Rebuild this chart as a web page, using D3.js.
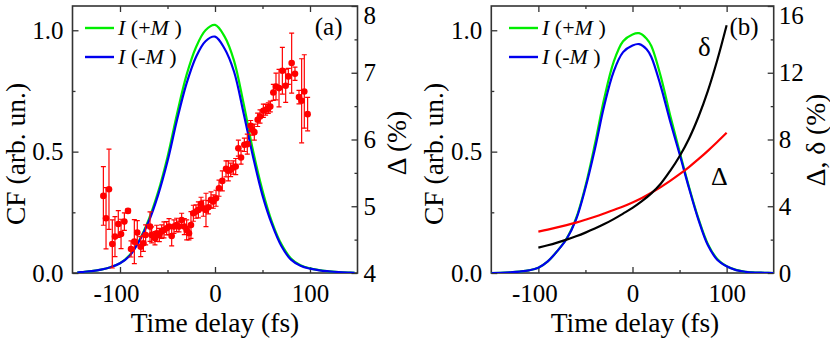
<!DOCTYPE html>
<html><head><meta charset="utf-8">
<script src="https://cdn.jsdelivr.net/npm/d3@7"></script>
<style>
html,body{margin:0;padding:0;background:#fff;}
svg{display:block;}
</style></head>
<body><svg id="c" width="830" height="338"></svg>
<script>
// ---------- data ----------
const tA = [-145,-140,-130,-120,-110,-100,-90,-80,-70,-60,-50,-40,-30,-20,-10,0,10,20,30,40,50,60,70,80,90,100,110,120,130,140,147];
const plusA = [0.002,0.004,0.008,0.014,0.024,0.04,0.073,0.133,0.218,0.332,0.478,0.655,0.815,0.93,1.0,1.022,0.975,0.875,0.7,0.505,0.34,0.21,0.118,0.06,0.032,0.019,0.012,0.007,0.004,0.002,0.001];
const minusA = [0.002,0.004,0.008,0.014,0.024,0.04,0.07,0.13,0.21,0.32,0.46,0.63,0.78,0.89,0.955,0.974,0.925,0.83,0.66,0.48,0.32,0.2,0.11,0.055,0.03,0.018,0.011,0.007,0.004,0.002,0.001];

const ptT = [-117.5,-114.7,-111.6,-108.1,-105.3,-101.8,-98.9,-95.4,-91.6,-88.4,
 -84.9,-81.8,-78.2,-75.4,-73.0,-68.4,-66.7,-63.2,-61.4,-58.6,
 -56.1,-53.7,-50.9,-48.4,-45.6,-43.2,-40.4,-37.9,-35.1,-32.3,
 -29.8,-27.4,-25.3,-22.8,-20.0,-17.5,-14.7,-12.3,-9.5,-7.0,
 -4.2,-1.8,1.1,4.2,7.7,11.6,14.0,16.5,19.3,21.8,
 24.6,27.4,30.9,34.0,37.5,39.3,41.4,44.9,47.4,50.9,
 53.3,56.1,58.2,61.4,64.2,67.4,70.9,74.4,77.2,80.7,
 84.2,88.4,91.2,94.0,97.5];
const ptV = [5.155,4.82,5.255,4.435,4.545,4.735,4.585,4.77,4.93,4.36,
 4.47,4.605,4.395,4.445,4.57,4.695,4.57,4.52,4.595,4.57,
 4.62,4.645,4.67,4.695,4.555,4.695,4.72,4.695,4.795,4.695,
 4.645,4.595,4.72,4.895,4.92,4.945,5.035,4.97,4.945,4.985,
 5.095,5.07,5.12,5.27,5.38,5.56,5.53,5.545,5.58,5.595,
 5.87,5.73,5.92,5.93,6.205,6.145,6.11,6.295,6.345,6.43,
 6.445,6.47,6.495,6.705,6.795,6.77,7.03,6.805,6.945,7.145,
 6.985,6.635,6.58,6.72,6.38];
const ptE = [0.44,0.46,0.6,0.36,0.3,0.2,0.22,0.13,0.03,0.12,
 0.33,0.18,0.15,0.12,0.15,0.22,0.12,0.1,0.12,0.1,
 0.1,0.12,0.1,0.12,0.15,0.1,0.1,0.08,0.1,0.12,
 0.15,0.1,0.2,0.12,0.1,0.12,0.1,0.12,0.25,0.1,
 0.12,0.1,0.12,0.12,0.15,0.12,0.15,0.1,0.1,0.12,
 0.12,0.1,0.1,0.15,0.08,0.08,0.12,0.1,0.1,0.1,
 0.08,0.08,0.08,0.12,0.2,0.28,0.35,0.25,0.12,0.45,
 0.1,0.1,0.63,0.55,0.25];

const tB = [-150,-140,-130,-120,-110,-100,-90,-80,-70,-60,-50,-40,-30,-20,-10,0,7,15,20,30,40,50,60,70,80,90,100,110,120,130,140,150];
const plusB = [0,0.001,0.003,0.006,0.011,0.022,0.048,0.09,0.142,0.225,0.358,0.53,0.72,0.87,0.955,0.983,0.988,0.965,0.935,0.81,0.65,0.5,0.355,0.225,0.12,0.058,0.028,0.013,0.005,0.002,0.001,0];
const minusB = [0,0.001,0.003,0.006,0.011,0.022,0.048,0.09,0.14,0.22,0.35,0.51,0.69,0.83,0.91,0.937,0.943,0.922,0.89,0.77,0.625,0.49,0.35,0.22,0.115,0.055,0.028,0.012,0.005,0.002,0.001,0];

const tC = [-100,-90,-80,-70,-60,-50,-40,-30,-20,-10,0,10,20,30,40,50,60,70,80,90,100];
const deltaSmall = [1.52,1.66,1.82,2.0,2.2,2.42,2.66,2.93,3.23,3.56,3.9,4.3,4.77,5.35,6.12,7.0,8.05,9.35,10.9,12.75,14.85];
const deltaBig = [2.48,2.6,2.73,2.87,3.02,3.19,3.37,3.57,3.78,3.99,4.23,4.5,4.81,5.15,5.52,5.92,6.35,6.82,7.32,7.85,8.4];

const xTicksMajor = [-100,0,100], xTicksMinor = [-50,50];
const cfMajor = [0,0.5,1.0], cfMinor = [0.25,0.75];
const rAMajor = [4,5,6,7,8], rAMinor = [4.5,5.5,6.5,7.5];
const rBMajor = [0,4,8,12,16], rBMinor = [2,6,10,14];

// ---------- drawing ----------
const FAM = "'Liberation Serif', Tinos, 'Times New Roman', Times, 'DejaVu Serif', serif";
const svg = d3.select("#c");
const root = svg.append("g").attr("font-family", FAM);
const GREEN = "#00ee00", BLUE = "#0000ee", RED = "#ff0000";
const FONT_TICK = 25, FONT_TITLE = 27.5;

function panel(o){
  const g = root.append("g");
  const x = d3.scaleLinear().domain([-150,150]).range([o.x0,o.x1]);
  const y = d3.scaleLinear().domain([0,1.1]).range([o.yb,o.yt]);
  const yr = d3.scaleLinear().domain(o.rDom).range([o.yb,o.yt]);
  const fmtX = d => (d<0?"-":"")+Math.abs(d);
  const axStyle = sel => { sel.attr("font-family",FAM); sel.select(".domain").remove(); sel.selectAll("line").attr("stroke","#333").attr("stroke-width",1.3);
    sel.selectAll("text").attr("font-size",FONT_TICK).attr("fill","#000").attr("font-family",FAM); };
  // bottom
  g.append("g").attr("transform",`translate(0,${o.yb})`).call(d3.axisBottom(x).tickValues(xTicksMajor).tickSize(-6).tickPadding(11).tickFormat(fmtX)).call(axStyle)
   .selectAll("text").attr("dy","0.71em").attr("dx", d => d<0 ? -4 : 0);
  g.append("g").attr("transform",`translate(0,${o.yb})`).call(d3.axisBottom(x).tickValues(xTicksMinor).tickSize(-3).tickFormat("")).call(axStyle);
  // top
  g.append("g").attr("transform",`translate(0,${o.yt})`).call(d3.axisTop(x).tickValues(xTicksMajor).tickSize(-6).tickFormat("")).call(axStyle);
  g.append("g").attr("transform",`translate(0,${o.yt})`).call(d3.axisTop(x).tickValues(xTicksMinor).tickSize(-3).tickFormat("")).call(axStyle);
  // left
  g.append("g").attr("transform",`translate(${o.x0},0)`).call(d3.axisLeft(y).tickValues(cfMajor).tickSize(-6).tickPadding(9).tickFormat(d3.format(".1f"))).call(axStyle);
  g.append("g").attr("transform",`translate(${o.x0},0)`).call(d3.axisLeft(y).tickValues(cfMinor).tickSize(-3).tickFormat("")).call(axStyle);
  // right
  const rAx = g.append("g").attr("transform",`translate(${o.x1},0)`).call(d3.axisRight(yr).tickValues(o.rMajor).tickSize(-6).tickPadding(o.rPad).tickFormat(d3.format("d"))).call(axStyle);
  rAx.selectAll("text").filter(d => d === o.rDom[1]).attr("dy","0.32em").attr("y",9);
  g.append("g").attr("transform",`translate(${o.x1},0)`).call(d3.axisRight(yr).tickValues(o.rMinor).tickSize(-3).tickFormat("")).call(axStyle);
  // frame
  g.append("rect").attr("x",o.x0).attr("y",o.yt).attr("width",o.x1-o.x0).attr("height",o.yb-o.yt)
   .attr("fill","none").attr("stroke","#333").attr("stroke-width",1.6);

  const clip = "clip"+o.id;
  g.append("clipPath").attr("id",clip).append("rect").attr("x",o.x0).attr("y",o.yt).attr("width",o.x1-o.x0).attr("height",o.yb-o.yt);
  const plot = g.append("g").attr("clip-path",`url(#${clip})`);
  const line = (ys,sc) => d3.line().x((d,i)=>x(d)).y((d,i)=>sc(ys[i])).curve(d3.curveCatmullRom.alpha(0.5));
  plot.append("path").attr("d",line(o.plus,y)(o.t)).attr("fill","none").attr("stroke",GREEN).attr("stroke-width",2.2);
  plot.append("path").attr("d",line(o.minus,y)(o.t)).attr("fill","none").attr("stroke",BLUE).attr("stroke-width",2.2);

  // titles
  g.append("text").attr("x",o.tx).attr("y",331.5).attr("text-anchor","middle").attr("font-size",FONT_TITLE).text("Time delay (fs)");
  g.append("text").attr("transform",`translate(${o.lx},154) rotate(-90)`).attr("text-anchor","middle").attr("font-size",FONT_TITLE).text("CF (arb. un.)");
  g.append("text").attr("transform",`translate(${o.rx},${o.ry}) rotate(-90)`).attr("text-anchor","middle").attr("font-size",FONT_TITLE).text(o.rTitle);

  // legend
  const L = [[GREEN,"+"],[BLUE,"-"]];
  L.forEach((l,i)=>{
    const yy = o.yt + 22 + i*29;
    g.append("line").attr("x1",o.legX).attr("x2",o.legX+29).attr("y1",yy).attr("y2",yy).attr("stroke",l[0]).attr("stroke-width",2.4);
    const t = g.append("text").attr("x",o.legX+33).attr("y",yy+7).attr("font-size",22);
    t.append("tspan").attr("font-style","italic").text("I");
    t.append("tspan").text(" ("+l[1]);
    t.append("tspan").attr("font-style","italic").text("M");
    t.append("tspan").text(" )");
  });
  g.append("text").attr("x",o.x1-15).attr("y",35).attr("text-anchor","end").attr("font-size",25).text(o.tag);
  return {g,plot,x,y,yr};
}

// Panel (a)
const A = panel({id:"a",x0:72.5,x1:357.5,yt:6,yb:273,rDom:[4,8],rMajor:rAMajor,rMinor:rAMinor,rPad:6,
  t:tA,plus:plusA,minus:minusA,tx:215,lx:25,rx:406,ry:143,rTitle:"Δ (%)",legX:85,tag:"(a)"});
const pts = ptT.map((t,i)=>({t,v:ptV[i],e:ptE[i]}));
const eb = A.plot.append("g").attr("stroke",RED).attr("stroke-width",1.2);
pts.forEach(p=>{
  const cx = A.x(p.t), y1 = A.yr(p.v+p.e), y2 = A.yr(p.v-p.e);
  eb.append("line").attr("x1",cx).attr("x2",cx).attr("y1",y1).attr("y2",y2);
  eb.append("line").attr("x1",cx-2.5).attr("x2",cx+2.5).attr("y1",y1).attr("y2",y1);
  eb.append("line").attr("x1",cx-2.5).attr("x2",cx+2.5).attr("y1",y2).attr("y2",y2);
});
A.plot.append("g").selectAll("circle").data(pts).join("circle")
  .attr("cx",d=>A.x(d.t)).attr("cy",d=>A.yr(d.v)).attr("r",3.3).attr("fill",RED);

// Panel (b)
const B = panel({id:"b",x0:491.3,x1:773.7,yt:6,yb:273,rDom:[0,16],rMajor:rBMajor,rMinor:rBMinor,rPad:5,
  t:tB,plus:plusB,minus:minusB,tx:635,lx:443,rx:825,ry:140,rTitle:"Δ, δ (%)",legX:509,tag:"(b)"});
const lineR = ys => d3.line().x(d=>B.x(d)).y((d,i)=>B.yr(ys[i])).curve(d3.curveCatmullRom.alpha(0.5));
B.plot.append("path").attr("d",lineR(deltaBig)(tC)).attr("fill","none").attr("stroke",RED).attr("stroke-width",2.2);
B.plot.append("path").attr("d",lineR(deltaSmall)(tC)).attr("fill","none").attr("stroke","#000").attr("stroke-width",2.2);
B.g.append("text").attr("x",698).attr("y",56).attr("font-size",27).text("δ");
B.g.append("text").attr("x",711).attr("y",185).attr("font-size",26).text("Δ");
</script></body></html>
